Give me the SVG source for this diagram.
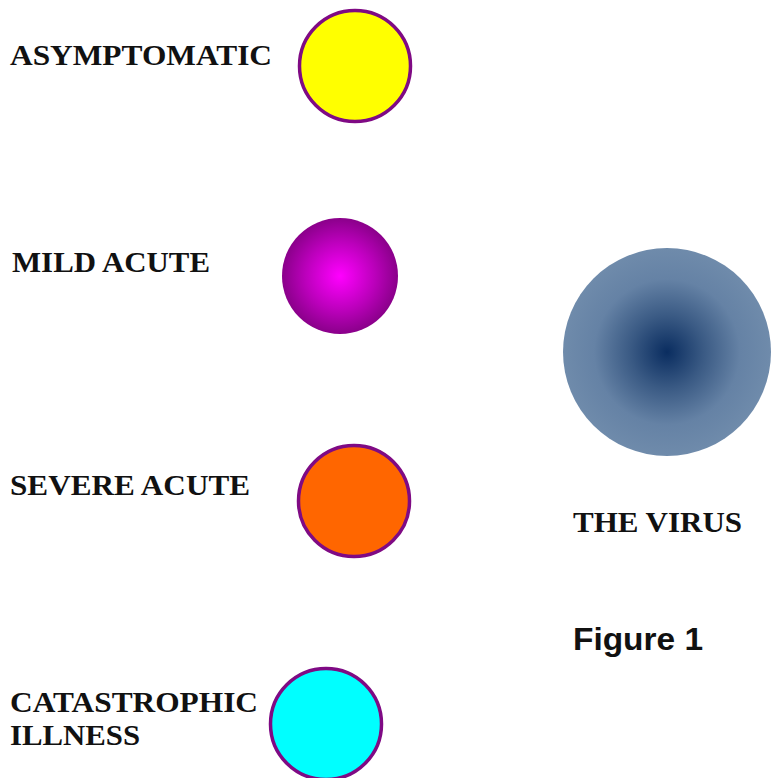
<svg xmlns="http://www.w3.org/2000/svg" width="771" height="778" viewBox="0 0 771 778">
  <style>
    .lbl { font-family: "Liberation Serif", "Times New Roman", serif; font-weight: bold; font-size: 29px; fill: #111; }
    .ring { stroke: #7f0a84; stroke-width: 3.5; }
    .cap { font-family: "Liberation Sans", Arial, sans-serif; font-weight: bold; font-size: 32px; fill: #111; }
  </style>
  <defs>
    <radialGradient id="gMag" cx="0.5" cy="0.5" r="0.5">
      <stop offset="0" stop-color="#ff00ff"/>
      <stop offset="0.6" stop-color="#bb00bb"/>
      <stop offset="1" stop-color="#8a008a"/>
    </radialGradient>
    <radialGradient id="gVir" cx="0.5" cy="0.5" r="0.5">
      <stop offset="0" stop-color="#0a2d60"/>
      <stop offset="0.35" stop-color="#3a5a84"/>
      <stop offset="0.7" stop-color="#6582a5"/>
      <stop offset="1" stop-color="#6f8bab"/>
    </radialGradient>
  </defs>
  <rect width="771" height="778" fill="#ffffff"/>
  <g id="asymptomatic">
    <circle class="ring" cx="355" cy="66" r="55.5" fill="#ffff00"/>
    <text class="lbl" x="10" y="65" textLength="262" lengthAdjust="spacingAndGlyphs">ASYMPTOMATIC</text>
  </g>
  <g id="mild-acute">
    <circle cx="340" cy="276" r="58" fill="url(#gMag)"/>
    <text class="lbl" x="12" y="272" textLength="198" lengthAdjust="spacingAndGlyphs">MILD ACUTE</text>
  </g>
  <g id="severe-acute">
    <circle class="ring" cx="354" cy="501" r="55.5" fill="#ff6600"/>
    <text class="lbl" x="10" y="495" textLength="240" lengthAdjust="spacingAndGlyphs">SEVERE ACUTE</text>
  </g>
  <g id="catastrophic">
    <circle class="ring" cx="326" cy="724" r="55.5" fill="#00ffff"/>
    <text class="lbl" x="10" y="712" textLength="248" lengthAdjust="spacingAndGlyphs">CATASTROPHIC</text>
    <text class="lbl" x="10" y="745" textLength="130" lengthAdjust="spacingAndGlyphs">ILLNESS</text>
  </g>
  <g id="virus">
    <circle cx="667" cy="352" r="104" fill="url(#gVir)"/>
    <text class="lbl" x="573" y="532" textLength="169" lengthAdjust="spacingAndGlyphs">THE VIRUS</text>
  </g>
  <g id="connectors"></g>
  <text class="cap" x="573" y="650" textLength="130" lengthAdjust="spacingAndGlyphs">Figure 1</text>
</svg>
